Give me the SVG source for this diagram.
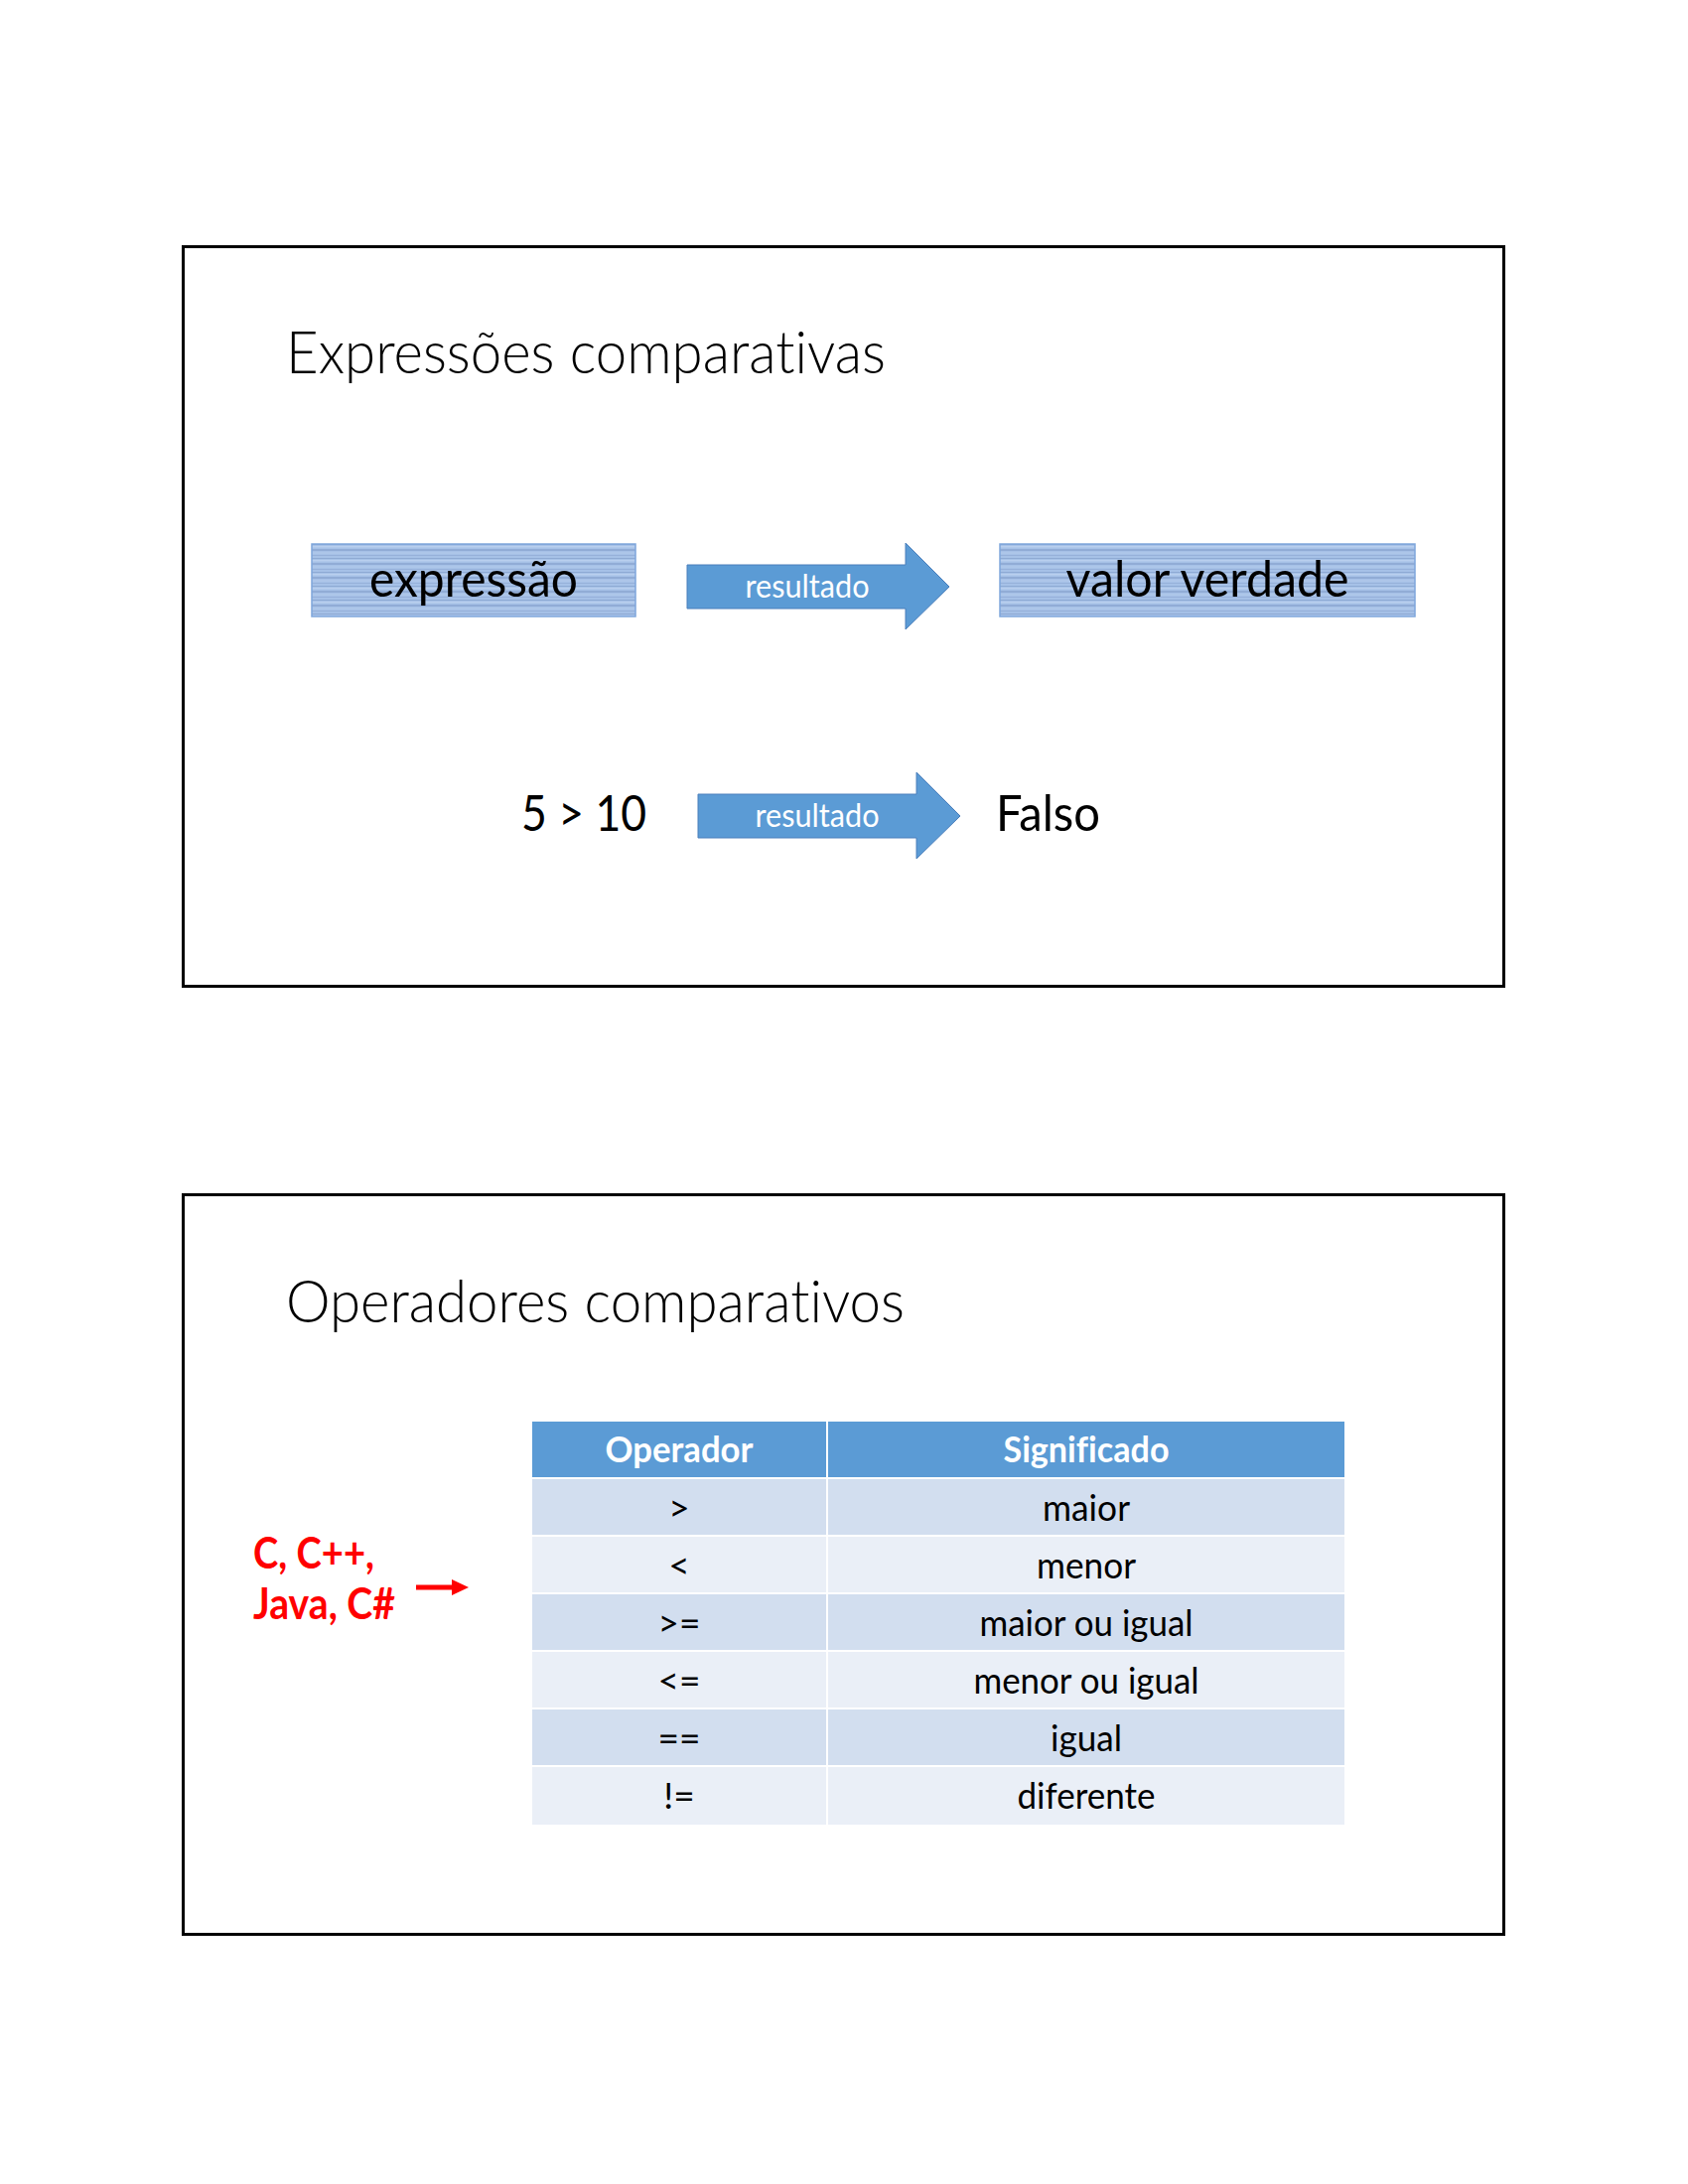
<svg xmlns="http://www.w3.org/2000/svg" width="1700" height="2200" viewBox="0 0 1700 2200">
<style>
.slide{fill:none;stroke:#000;stroke-width:3}
.t{font-family:Lato,"Liberation Sans",sans-serif;fill:#000;font-variant-ligatures:none;font-feature-settings:"liga" 0,"clig" 0,"dlig" 0;letter-spacing:0.01px}
.title{font-size:60px;font-weight:300}
.big{font-size:50px}
.lbl{font-size:32px;fill:#fff}
.cell{font-size:37px;text-anchor:middle}
.hdr{font-size:37px;font-weight:bold;fill:#fff;text-anchor:middle}
.red{font-size:44px;font-weight:bold;fill:#ff0000}
.barrow{fill:#5b9bd5;stroke:#4a7ebb;stroke-width:1}
.sbox{fill:url(#stripes);stroke:#7fa6dc;stroke-width:1.5}
.r1{fill:#d2deef}
.r2{fill:#eaeff7}
.hd{fill:#5b9bd5}
</style>
<defs>
<pattern id="stripes" patternUnits="userSpaceOnUse" x="0" y="547" width="20" height="14">
<rect width="20" height="14" fill="#a6c1e7"/>
<rect y="1" width="20" height="1" fill="#8eaad4"/>
<rect y="3" width="20" height="1.5" fill="#b9cfee"/>
<rect y="6" width="20" height="2" fill="#91acd6"/>
<rect y="9.5" width="20" height="1" fill="#b4cbec"/>
<rect y="12" width="20" height="1" fill="#97b1da"/>
</pattern>
<polygon id="blockArrow" points="0,22 220,22 220,0 264,44 220,87 220,66 0,66"/>
</defs>
<rect width="1700" height="2200" fill="#fff"/>

<g id="slide1">
<rect class="slide" x="184.5" y="248.5" width="1330" height="745"/>
<text class="t title" x="288" y="376" textLength="604" lengthAdjust="spacingAndGlyphs">Expressões comparativas</text>
</g>

<g id="slide2">
<rect class="slide" x="184.5" y="1203.5" width="1330" height="745"/>
<text class="t title" x="288" y="1332" textLength="623" lengthAdjust="spacingAndGlyphs">Operadores comparativos</text>
</g>

<g id="node-expressao">
<rect class="sbox" x="314" y="548" width="326" height="73"/>
<text class="t big" x="477" y="601" text-anchor="middle" textLength="210" lengthAdjust="spacingAndGlyphs">expressão</text>
</g>

<g id="node-valor-verdade">
<rect class="sbox" x="1007" y="548" width="418" height="73"/>
<text class="t big" x="1216" y="601" text-anchor="middle" textLength="285" lengthAdjust="spacingAndGlyphs">valor verdade</text>
</g>

<g id="node-5-maior-10">
<text class="t big" x="525" y="837" textLength="126" lengthAdjust="spacingAndGlyphs">5 &gt; 10</text>
</g>

<g id="node-falso">
<text class="t big" x="1003" y="837" textLength="105" lengthAdjust="spacingAndGlyphs">Falso</text>
</g>

<g id="node-languages">
<text class="t red" x="255" y="1580" textLength="122" lengthAdjust="spacingAndGlyphs">C, C++,</text>
<text class="t red" x="255" y="1631" textLength="143" lengthAdjust="spacingAndGlyphs">Java, C#</text>
</g>

<g id="table">
<rect class="hd" x="536" y="1432" width="818" height="56"/>
<rect class="r1" x="536" y="1490" width="818" height="56"/>
<rect class="r2" x="536" y="1548" width="818" height="56"/>
<rect class="r1" x="536" y="1606" width="818" height="56"/>
<rect class="r2" x="536" y="1664" width="818" height="56"/>
<rect class="r1" x="536" y="1722" width="818" height="56"/>
<rect class="r2" x="536" y="1780" width="818" height="58"/>
<line x1="833" y1="1432" x2="833" y2="1838" stroke="#fff" stroke-width="2"/>
<text class="t hdr" x="684" y="1473" textLength="149" lengthAdjust="spacingAndGlyphs">Operador</text>
<text class="t hdr" x="1094" y="1473" textLength="167" lengthAdjust="spacingAndGlyphs">Significado</text>
<text class="t cell" x="684" y="1532">&gt;</text>
<text class="t cell" x="1094" y="1532" textLength="88" lengthAdjust="spacingAndGlyphs">maior</text>
<text class="t cell" x="684" y="1590">&lt;</text>
<text class="t cell" x="1094" y="1590" textLength="100" lengthAdjust="spacingAndGlyphs">menor</text>
<text class="t cell" x="684" y="1648">&gt;=</text>
<text class="t cell" x="1094" y="1648" textLength="215" lengthAdjust="spacingAndGlyphs">maior ou igual</text>
<text class="t cell" x="684" y="1706">&lt;=</text>
<text class="t cell" x="1094" y="1706" textLength="227" lengthAdjust="spacingAndGlyphs">menor ou igual</text>
<text class="t cell" x="684" y="1764">==</text>
<text class="t cell" x="1094" y="1764" textLength="72" lengthAdjust="spacingAndGlyphs">igual</text>
<text class="t cell" x="684" y="1822">!=</text>
<text class="t cell" x="1094" y="1822" textLength="139" lengthAdjust="spacingAndGlyphs">diferente</text>
</g>

<g id="connectors">
<g id="arrow1">
<use href="#blockArrow" class="barrow" x="692" y="547"/>
<text class="t lbl" x="813" y="602" text-anchor="middle" textLength="125" lengthAdjust="spacingAndGlyphs">resultado</text>
</g>
<g id="arrow2">
<use href="#blockArrow" class="barrow" x="703" y="778"/>
<text class="t lbl" x="823" y="833" text-anchor="middle" textLength="125" lengthAdjust="spacingAndGlyphs">resultado</text>
</g>
<g id="arrow-red">
<line x1="419" y1="1599" x2="458" y2="1599" stroke="#ff0000" stroke-width="5"/>
<polygon points="455,1591 472,1599 455,1607" fill="#ff0000"/>
</g>
</g>
</svg>
